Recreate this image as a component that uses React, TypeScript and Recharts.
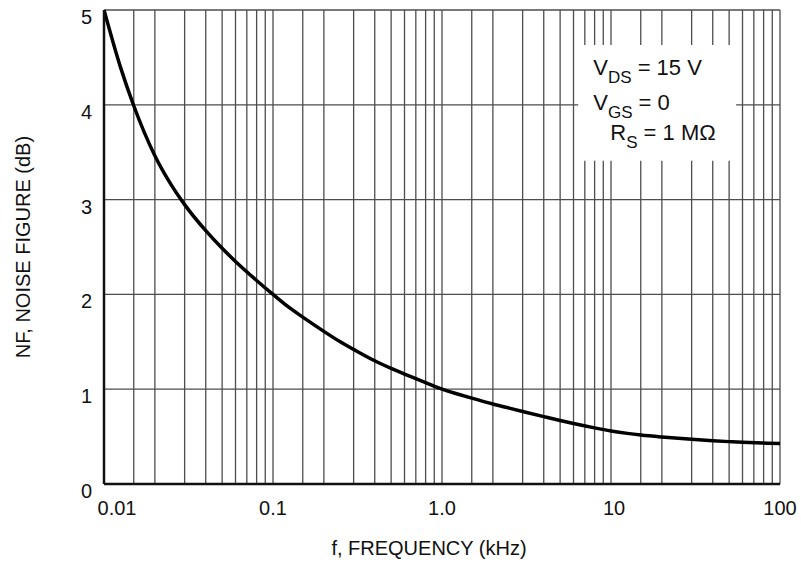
import React from "react";
import {
  LineChart,
  Line,
  XAxis,
  YAxis,
  CartesianGrid,
  ReferenceArea,
} from "recharts";

// Frequency (kHz) and noise figure (dB)
const freqKHz = [
  0.01, 0.0125, 0.015, 0.02, 0.025, 0.03, 0.04, 0.05, 0.06, 0.08, 0.1, 0.125,
  0.15, 0.2, 0.25, 0.3, 0.4, 0.5, 0.6, 0.8, 1.0, 1.25, 1.5, 2, 2.5, 3, 4, 5, 6,
  8, 10, 12.5, 15, 20, 25, 30, 40, 50, 60, 80, 100,
];
const noiseFigureDb = [
  5.0, 4.4, 3.99, 3.463, 3.155, 2.947, 2.672, 2.486, 2.348, 2.147, 2.0, 1.86,
  1.76, 1.61, 1.5, 1.42, 1.3, 1.22, 1.16, 1.07, 1.0, 0.947, 0.906, 0.844, 0.8,
  0.765, 0.711, 0.67, 0.638, 0.592, 0.56, 0.534, 0.517, 0.496, 0.482, 0.472,
  0.457, 0.447, 0.44, 0.432, 0.427,
];

const decades = [0.01, 0.1, 1, 10];
const gridMantissas = [1, 1.5, 2, 3, 4, 5, 6, 7, 8, 9];
const xTickLabels = ["0.01", "0.1", "1.0", "10", "100"];
const xLabelValues = [0.01, 0.1, 1, 10, 100];
const yTicks = [0, 1, 2, 3, 4, 5];

const xTicks: number[] = [];
decades.forEach((d) => gridMantissas.forEach((m) => xTicks.push(+(d * m).toPrecision(6))));
xTicks.push(100);

const data = freqKHz.map((f, i) => ({ f, nf: noiseFigureDb[i] }));

const FONT = "'Liberation Sans', Arial, Helvetica, sans-serif";

const XTick = (props: any) => {
  const { x, y, payload } = props;
  const idx = xLabelValues.findIndex((v) => Math.abs(v - payload.value) / v < 1e-6);
  if (idx < 0) return null;
  const dx = idx === 0 ? 13 : idx === 3 ? 3 : 0;
  return (
    <text
      x={x + dx}
      y={y + 16}
      textAnchor="middle"
      dominantBaseline="central"
      fontFamily={FONT}
      fontSize={20}
      fill="#111"
    >
      {xTickLabels[idx]}
    </text>
  );
};

const YTick = (props: any) => {
  const { x, y, payload } = props;
  return (
    <text
      x={x - 4}
      y={y + 7}
      textAnchor="end"
      dominantBaseline="central"
      fontFamily={FONT}
      fontSize={20}
      fill="#111"
    >
      {payload.value}
    </text>
  );
};

const YTitle = (props: any) => {
  const vb = props.viewBox;
  const cx = vb.x + 23;
  const cy = vb.y + vb.height / 2;
  return (
    <text
      x={cx}
      y={cy}
      transform={`rotate(-90 ${cx} ${cy})`}
      textAnchor="middle"
      dominantBaseline="central"
      fontFamily={FONT}
      fontSize={20}
      fill="#111"
    >
      NF, NOISE FIGURE (dB)
    </text>
  );
};

const XTitle = (props: any) => {
  const vb = props.viewBox;
  return (
    <text
      x={vb.x + 325}
      y={vb.y + 64}
      textAnchor="middle"
      dominantBaseline="central"
      fontFamily={FONT}
      fontSize={20}
      fill="#111"
    >
      f, FREQUENCY (kHz)
    </text>
  );
};

const Conditions = (props: any) => {
  const vb = props.viewBox;
  const x0 = vb.x;
  const y0 = vb.y;
  const common = { fontFamily: FONT, fontSize: 22, fill: "#111" };
  return (
    <g>
      <text x={x0 + 15} y={y0 + 30} {...common}>
        <tspan>V</tspan>
        <tspan dy={8} fontSize={17}>DS</tspan>
        <tspan dy={-8}> = 15 V</tspan>
      </text>
      <text x={x0 + 15} y={y0 + 65} {...common}>
        <tspan>V</tspan>
        <tspan dy={8} fontSize={17}>GS</tspan>
        <tspan dy={-8}> = 0</tspan>
      </text>
      <text x={x0 + 32} y={y0 + 95} {...common}>
        <tspan>R</tspan>
        <tspan dy={8} fontSize={17}>S</tspan>
        <tspan dy={-8}> = 1 MΩ</tspan>
      </text>
    </g>
  );
};

export default function App() {
  return (
    <div style={{ position: "absolute", left: 0, top: 0, background: "#fff" }}>
      <LineChart
        width={801}
        height={564}
        data={data}
        margin={{ top: 10, right: 21, bottom: 40, left: 0 }}
      >
        <CartesianGrid stroke="#4d4d4d" strokeWidth={1.3} />
        <XAxis
          dataKey="f"
          type="number"
          scale="log"
          domain={[0.01, 100]}
          ticks={xTicks}
          interval={0}
          allowDataOverflow
          tick={<XTick />}
          tickLine={false}
          axisLine={{ stroke: "#111", strokeWidth: 2.5 }}
          height={40}
          label={{ content: <XTitle /> } as any}
        />
        <YAxis
          type="number"
          domain={[0, 5]}
          ticks={yTicks}
          interval={0}
          width={104}
          tick={<YTick />}
          tickLine={false}
          axisLine={{ stroke: "#111", strokeWidth: 2.5 }}
          label={{ content: <YTitle /> } as any}
        />
        <ReferenceArea
          x1={6.4}
          x2={55}
          y1={3.41}
          y2={4.63}
          fill="#fff"
          fillOpacity={1}
          stroke="none"
          ifOverflow="visible"
          label={{ content: <Conditions /> } as any}
        />
        <Line
          dataKey="nf"
          type="monotone"
          stroke="#000"
          strokeWidth={3.5}
          dot={false}
          isAnimationActive={false}
        />
      </LineChart>
    </div>
  );
}
